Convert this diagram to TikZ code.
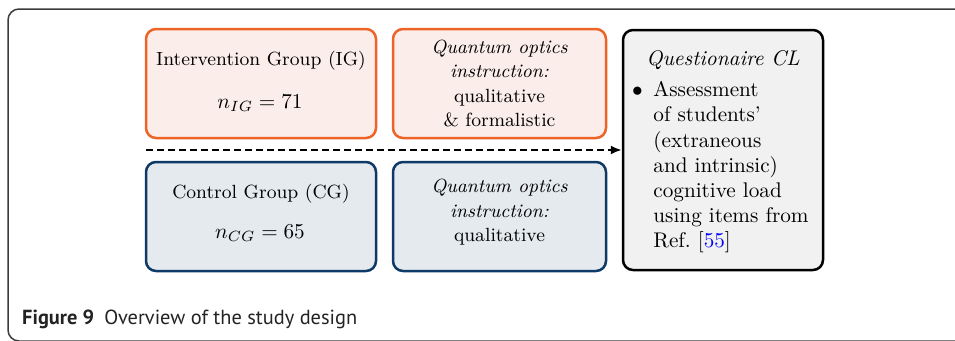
\documentclass[tikz,border=0pt]{standalone}
\usepackage{fontspec}
\newfontfamily\capfont{PT Sans}
\usetikzlibrary{arrows.meta}

\definecolor{igline}{RGB}{238,100,40}
\definecolor{igfill}{RGB}{251,237,233}
\definecolor{cgline}{RGB}{14,58,104}
\definecolor{cgfill}{RGB}{229,234,238}
\definecolor{qfill}{RGB}{241,241,241}
\definecolor{framegray}{RGB}{60,60,60}
\definecolor{captext}{RGB}{35,35,35}
\definecolor{linkblue}{RGB}{0,0,255}

\tikzset{
  box/.style={draw, rounded corners=10pt, line width=2.5pt, inner sep=0pt},
  igbox/.style={box, draw=igline, fill=igfill},
  cgbox/.style={box, draw=cgline, fill=cgfill},
  qbox/.style={box, draw=black, fill=qfill},
  smalltxt/.style={font=\small, inner sep=0pt, anchor=base, scale=2.12, transform shape},
  bigtxt/.style={font=\normalsize, inner sep=0pt, scale=2.12, transform shape},
  flow/.style={line width=2pt, dash pattern=on 6.5pt off 4.5pt,
    -{Latex[length=11pt, width=9pt]}},
  frame/.style={draw=framegray, line width=1.5pt, rounded corners=11pt}
}

\begin{document}
\begin{tikzpicture}[x=1pt, y=-1pt]
\useasboundingbox (0,0) rectangle (955,340);

% figure frame, running off the page on the right and bottom
\begin{scope}
  \clip (0,0) rectangle (955,340);
  \draw[frame] (8,9) rectangle (990,341);
\end{scope}

% group boxes and instruction boxes
\node[igbox, minimum width=230pt, minimum height=109pt] (ig)  at (261,83.5) {};
\node[igbox, minimum width=213pt, minimum height=109pt] (igi) at (499.5,83.5) {};
\node[cgbox, minimum width=230pt, minimum height=109pt] (cg)  at (261,216.5) {};
\node[cgbox, minimum width=213pt, minimum height=109pt] (cgi) at (499.5,216.5) {};
\node[qbox,  minimum width=200pt, minimum height=240pt] (q)   at (723,150) {};

% texts of the group boxes
\node[smalltxt] (igname) at (261,65) {Intervention Group (IG)};
\node[bigtxt, anchor=base] (ign) at (260,108) {$n_{IG} = 71$};
\node[smalltxt] (cgname) at (261,198) {Control Group (CG)};
\node[bigtxt, anchor=base] (cgn) at (260,238) {$n_{CG} = 65$};

% texts of the instruction boxes
\foreach \t [count=\i] in {{\itshape Quantum optics},{\itshape instruction:},{qualitative},{\& formalistic}}
  \node[smalltxt] (igi-\i) at (499.5,{53+24.5*(\i-1)}) {\t};
\foreach \t [count=\i] in {{\itshape Quantum optics},{\itshape instruction:},{qualitative}}
  \node[smalltxt] (cgi-\i) at (499.5,{192.5+24.5*(\i-1)}) {\t};

% questionnaire box
\node[bigtxt, anchor=base] (qtitle) at (723,65) {\itshape Questionaire CL};
\node[bigtxt, anchor=base] (qbullet) at (637.5,96.7) {$\bullet$};
\foreach \t [count=\i] in {{Assessment},{of students'},{(extraneous},{and intrinsic)},{cognitive load},{using items from},{Ref.\ [\textcolor{linkblue}{55}]}}
  \node[bigtxt, anchor=base west] (q-\i) at (653,{96.7+25.2*(\i-1)}) {\t};

% common flow of both groups into the questionnaire
\coordinate (flowstart) at (146,150);
\draw[flow] (flowstart) -- (flowstart -| q.west);

% caption
\node[anchor=base west, inner sep=0pt, text=captext,
      font=\capfont\fontsize{20.4}{24}\selectfont] (caption) at (22,324)
  {\textbf{Figure 9}\hspace{0.5em}Overview of the study design};
\end{tikzpicture}
\end{document}
